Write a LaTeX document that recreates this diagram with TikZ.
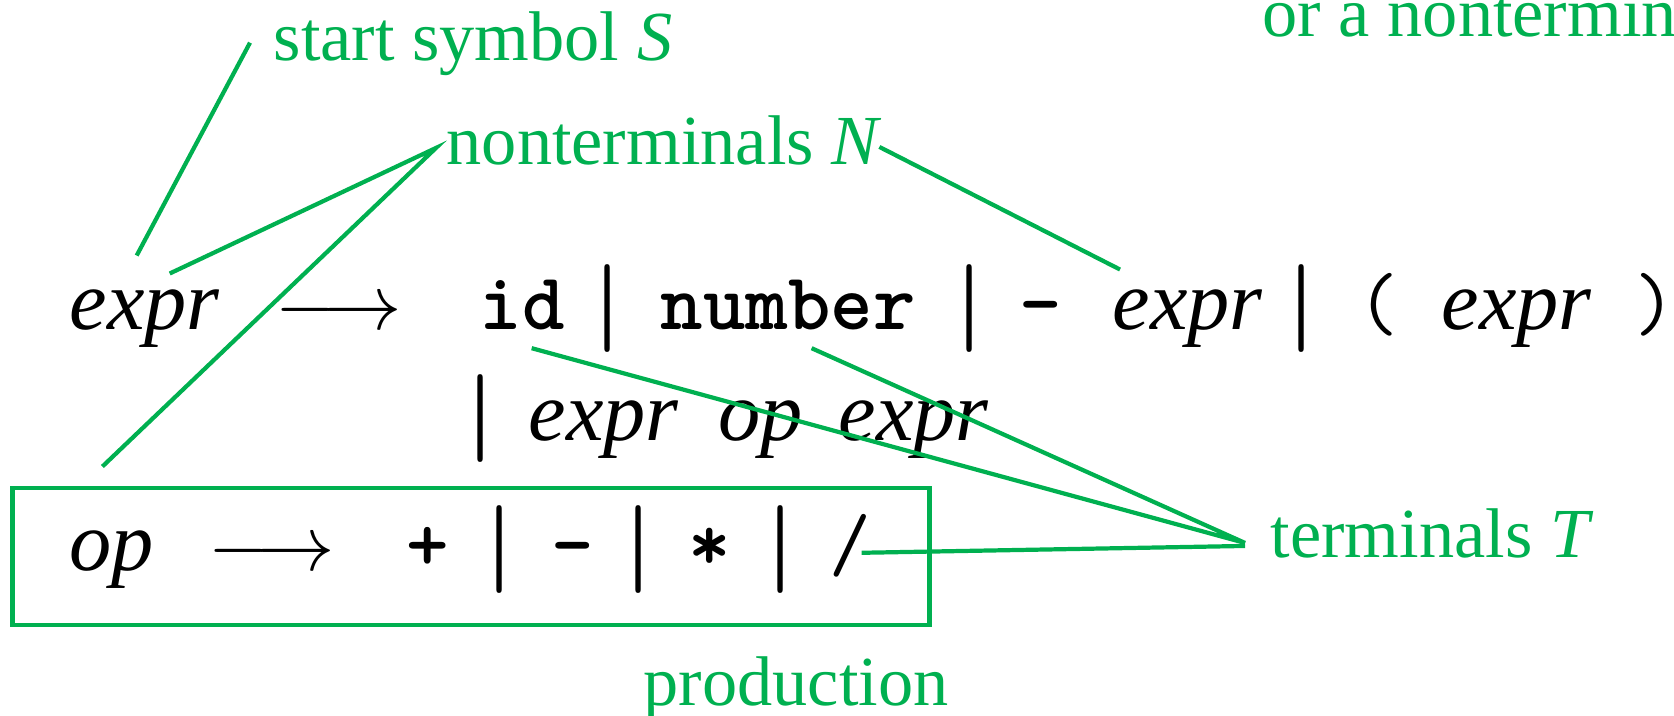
\RequirePackage{fix-cm}
\documentclass[tikz,border=0pt]{standalone}
\usepackage{fontspec}
\setmainfont{Liberation Serif}
\usepackage{tikz}
\definecolor{labelgreen}{RGB}{0,176,80}

\begin{document}
\begin{tikzpicture}[x=0.01cm, y=-0.01cm, every node/.style={inner sep=0pt},
  lbl/.style={font=\fontsize{20}{24}\selectfont, text=labelgreen, anchor=base west},
  nt/.style={font=\fontsize{24}{28}\selectfont\itshape, anchor=base west},
  tm/.style={font=\fontsize{23}{27}\selectfont\ttfamily\bfseries, anchor=base west},
  sym/.style={font=\fontsize{23}{27}\selectfont\ttfamily, anchor=base},
  bar/.style={font=\fontsize{25}{30}\selectfont\boldmath, anchor=base},
  derives/.style={font=\fontsize{22.3}{27}\selectfont, anchor=base},
  link/.style={draw=labelgreen, line width=1.2pt}]

\useasboundingbox (0,0) rectangle (1674,716);

\node[nt] (expra) at (69,330) {expr};
\node[derives] (arrowa) at (339,330) {$\longrightarrow$};
\node[tm] (idtok) at (479,330) {id};
\node[bar] (bara) at (608,331) {$|$};
\node[tm] (numtok) at (660,330) {number};
\node[bar] (barb) at (970,331) {$|$};
\node[tm, anchor=base] (negtok) at (1041,330) {-};
\node[nt] (exprb) at (1112,330) {expr};
\node[bar] (barc) at (1302,331) {$|$};
\node[sym] (lparen) at (1378,330) {(};
\node[nt] (exprc) at (1441,330) {expr};
\node[sym] (rparen) at (1655,330) {)};

\node[bar] (bard) at (481,441) {$|$};
\node[nt] (exprd) at (528,440) {expr};
\node[nt] (opa) at (718,440) {op};
\node[nt] (expre) at (838,440) {expr};

\node[draw=labelgreen, line width=1.3pt, minimum width=9.16cm, minimum height=1.37cm] (prodbox) at (471,556.5) {};
\node[nt] (opb) at (69,570) {op};
\node[derives] (arrowb) at (272,570) {$\longrightarrow$};
\node[tm, anchor=base] (plustok) at (428,570) {+};
\node[bar] (bare) at (500,571) {$|$};
\node[tm, anchor=base] (minustok) at (573,570) {-};
\node[bar] (barf) at (639,571) {$|$};
\node[tm, anchor=base] (startok) at (710,570) {*};
\node[bar] (barg) at (781,571) {$|$};
\node[sym] (slashtok) at (850,570) {/};

\node[lbl] (startlbl) at (273,61) {start symbol \textit{S}};
\node[lbl] (ntlbl) at (446,165) {nonterminals \textit{N}};
\node[lbl] (tlbl) at (1270,557) {terminals \textit{T}};
\node[lbl] (prodlbl) at (643,705) {production};
\begin{scope}
\clip (0,0) rectangle (1674,716);
\node[lbl] (headlbl) at (1262,37) {or a nonterminal};
\end{scope}

\draw[link] ([shift={(-23,-1.5)}]startlbl.west) -- ([shift={(-8,-34)}]expra.north);
\draw[link] ([shift={(25,-16)}]expra.north) -- ([shift={(-10,7)}]ntlbl.west) -- ([shift={(-9.5,-63)}]opb.north);
\draw[link] ([shift={(-3,6)}]ntlbl.east) -- ([shift={(8,-20)}]exprb.north west);
\draw[link] ([shift={(9.5,17)}]idtok.south) -- ([shift={(-25,10)}]tlbl.west) -- ([shift={(23.5,17)}]numtok.south);
\draw[link] ([shift={(-10,7.5)}]slashtok.east) -- ([shift={(-25,13)}]tlbl.west);

\end{tikzpicture}
\end{document}
